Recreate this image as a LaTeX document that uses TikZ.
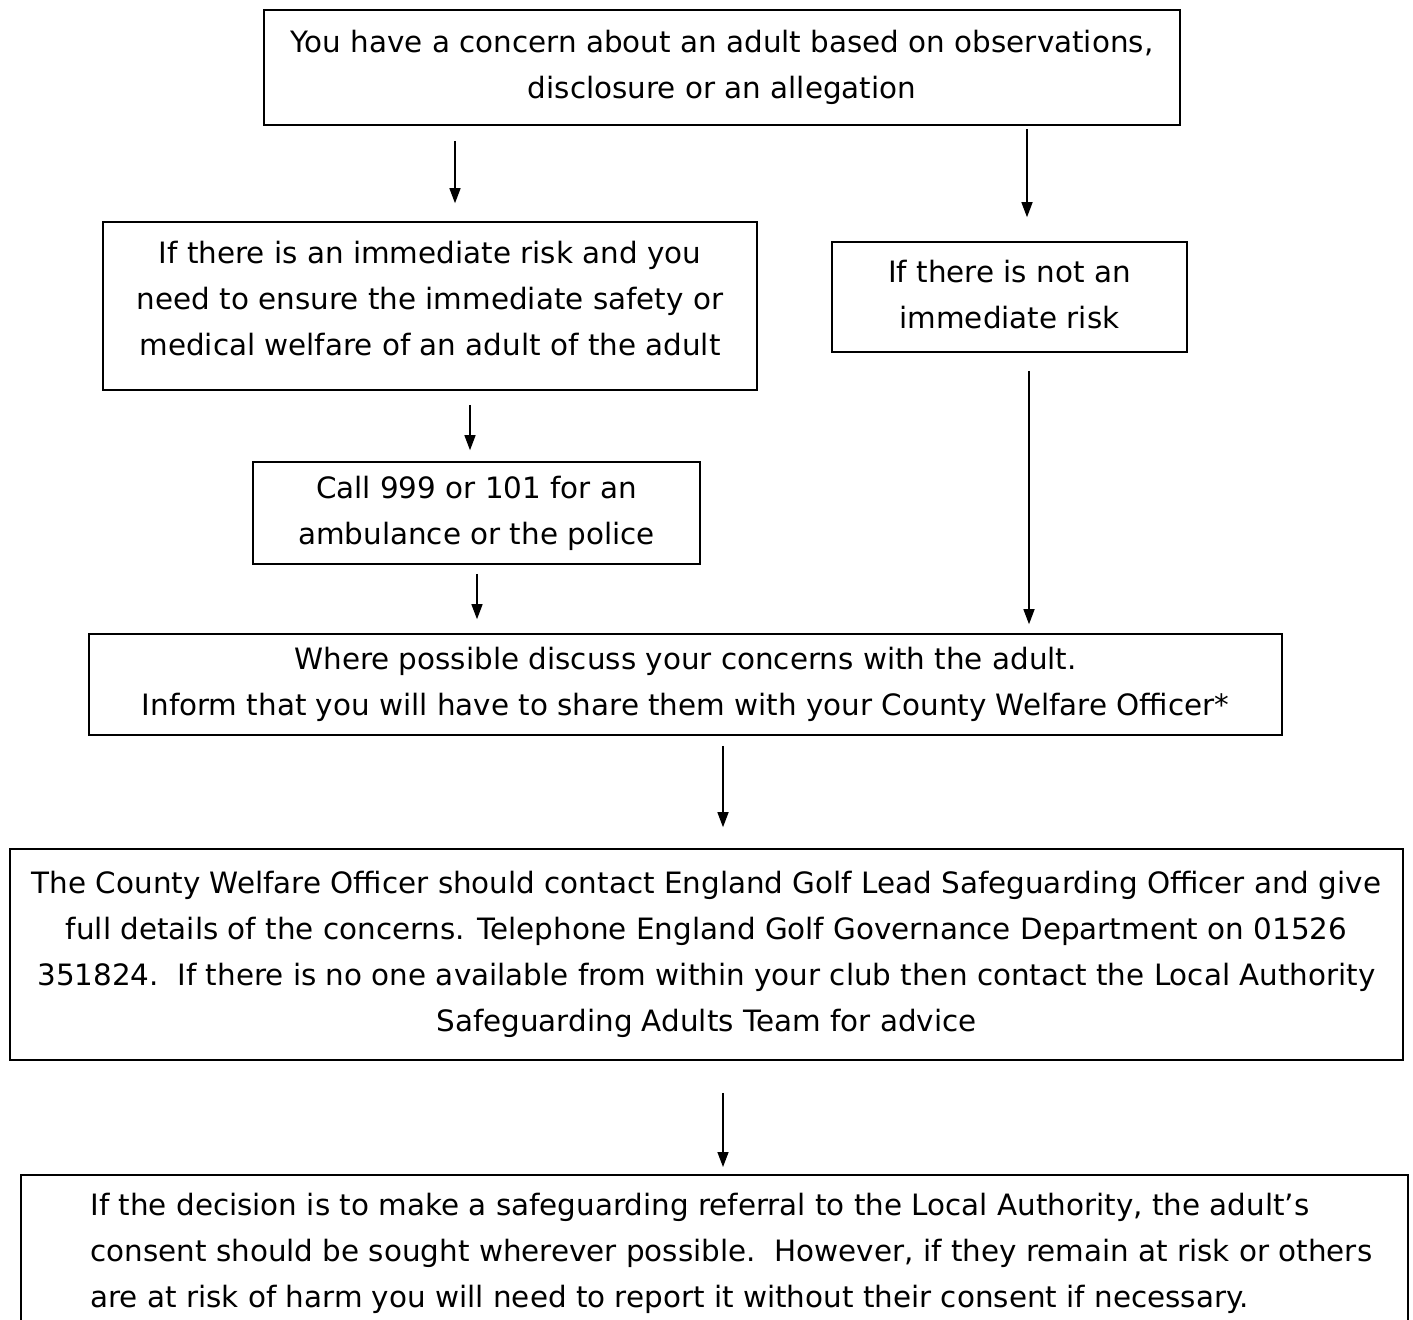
\documentclass[tikz,border=0pt]{standalone}
\usepackage{fontspec}
\setmainfont{DejaVu Sans}
\usetikzlibrary{arrows.meta}

\begin{document}
\begin{tikzpicture}[x=0.5pt, y=-0.5pt,
  box/.style={draw, line width=0.8pt, align=center, inner xsep=2pt, inner ysep=2pt,
              font=\fontsize{14.7}{23}\selectfont},
  arr/.style={line width=0.7pt, -{Triangle[length=7.5pt,width=5.5pt]}}]

\useasboundingbox (0,0) rectangle (1413,1319);
\clip (0,0) rectangle (1413,1319);

\node [box, minimum width=458pt, minimum height=57.5pt] (concern) at (722, 67.5)
  {You have a concern about an adult based on observations,\\disclosure or an allegation};
\node [box, minimum width=327pt, minimum height=84pt, text depth=8pt] (immed) at (430, 306)
  {If there is an immediate risk and you\\need to ensure the immediate safety or\\medical welfare of an adult of the adult};
\node [box, minimum width=177.5pt, minimum height=55pt, text depth=3pt] (notimm) at (1009.5, 297)
  {If there is not an\\immediate risk};
\node [box, minimum width=223.5pt, minimum height=51pt] (call) at (476.5, 513)
  {Call 999 or 101 for an\\ambulance or the police};
\node [box, minimum width=596.5pt, minimum height=50.5pt] (discuss) at (685.5, 684.5)
  {Where possible discuss your concerns with the adult.\\Inform that you will have to share them with your County Welfare Officer*};
\node [box, minimum width=696.5pt, minimum height=105.5pt] (cwo) at (706.5, 954.5)
  {The County Welfare Officer should contact England Golf Lead Safeguarding Officer and give\\
   full details of the concerns. Telephone England Golf Governance Department on 01526\\
   351824.\ \ If there is no one available from within your club then contact the Local Authority\\
   Safeguarding Adults Team for advice};

% last box runs off the page
\node [box, anchor=north, minimum width=693.5pt, minimum height=93pt] (referral) at (714.5, 1174) {};
\node [anchor=north west, align=left, inner sep=0pt, font=\fontsize{14.7}{23}\selectfont] (reftext) at (90, 1193)
  {If the decision is to make a safeguarding referral to the Local Authority, the adult’s\\
   consent should be sought wherever possible.\ \ However, if they remain at risk or others\\
   are at risk of harm you will need to report it without their consent if necessary.};

% arrow columns
\coordinate (a1) at (455,0);
\coordinate (a2) at (1027,0);
\coordinate (a3) at (470,0);
\coordinate (a4) at (477,0);
\coordinate (a5) at (1029,0);
\coordinate (a6) at (723,0);

\draw [arr, shorten <=7.5pt, shorten >=9pt]   (concern.south -| a1) -- (immed.north -| a1);
\draw [arr, shorten <=1.5pt, shorten >=12pt]  (concern.south -| a2) -- (notimm.north -| a2);
\draw [arr, shorten <=7pt, shorten >=5.5pt]   (immed.south -| a3) -- (call.north -| a3);
\draw [arr, shorten <=4.5pt, shorten >=7pt]   (call.south -| a4) -- (discuss.north -| a4);
\draw [arr, shorten <=9pt, shorten >=4.5pt]   (notimm.south -| a5) -- (discuss.north -| a5);
\draw [arr, shorten <=5pt, shorten >=10.5pt]  (discuss.south -| a6) -- (cwo.north -| a6);
\draw [arr, shorten <=16pt, shorten >=3.5pt]  (cwo.south -| a6) -- (referral.north -| a6);

\end{tikzpicture}
\end{document}
